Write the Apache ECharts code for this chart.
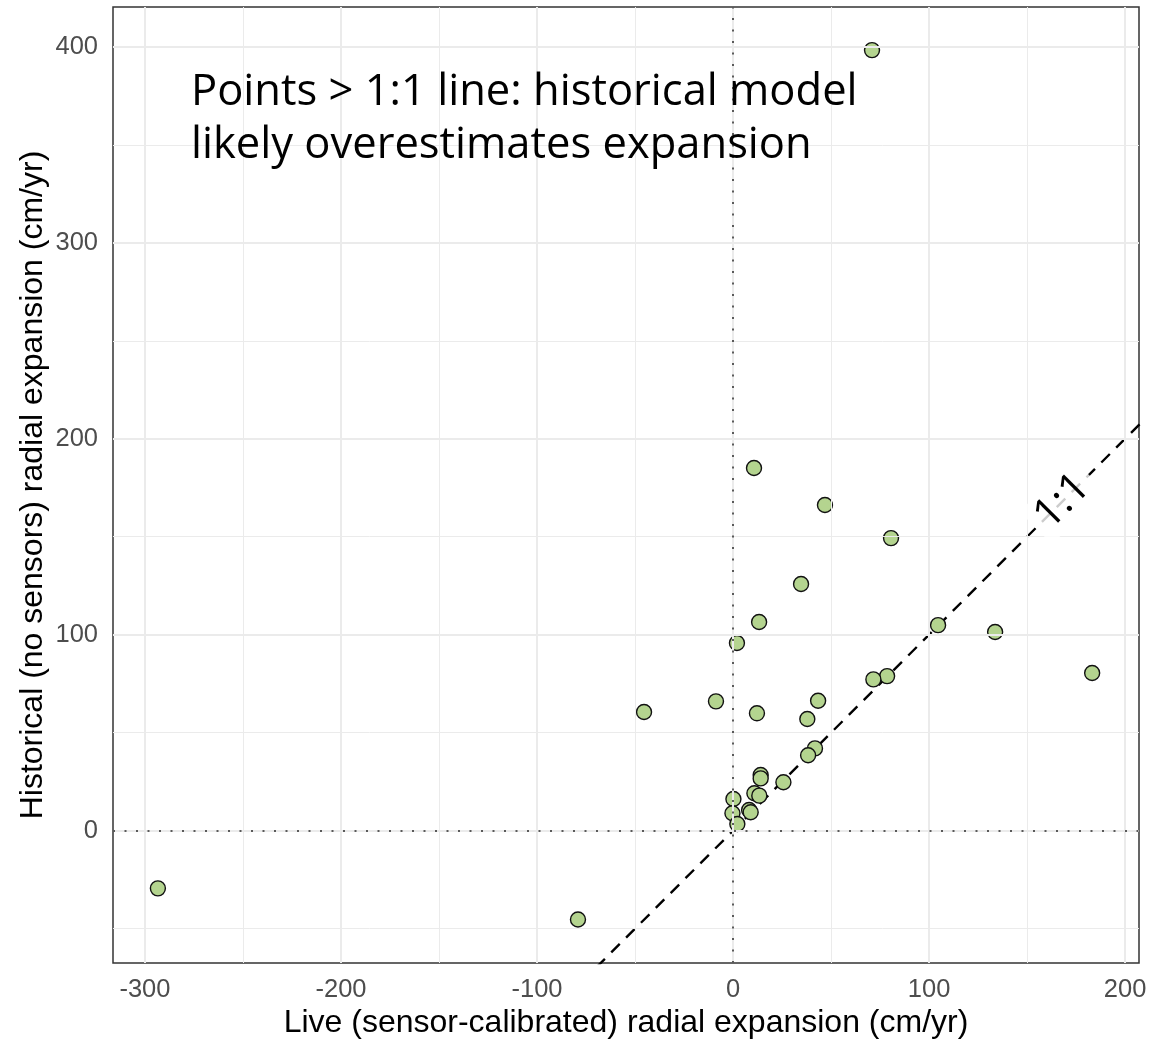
<!DOCTYPE html>
<html>
<head>
<meta charset="utf-8">
<script src="https://cdn.jsdelivr.net/npm/echarts@6/dist/echarts.min.js"></script>
<style>
  html, body { margin: 0; padding: 0; background: #fff; }
  #chart { width: 1150px; height: 1042px; }
</style>
</head>
<body>
<div id="chart"></div>
<script>
// Live (sensor-calibrated) vs historical (no sensors) radial expansion, cm/yr
const liveExpansion = [
  70.9, 10.7, 46.9, 80.6, 34.7, 13.3, 104.6, 133.7, 2.0, 183.2,
  78.6, 71.6, -8.7, 43.4, -45.4, 12.2, 37.9, 41.8, 38.3,
  14.1, 14.1, 25.7, 10.9, 13.4, 0.2, 8.2, 9.0, -0.3, 2.2,
  -293.4, -79.1
];
const historicalExpansion = [
  398.3, 185.1, 166.2, 149.3, 125.9, 106.5, 104.9, 101.4, 95.8, 80.5,
  78.9, 77.2, 66.0, 66.3, 60.6, 59.9, 57.0, 42.0, 38.5,
  28.4, 26.7, 24.7, 19.1, 17.9, 16.2, 10.6, 9.4, 8.9, 3.4,
  -29.4, -45.3
];

// Axis extents and tick positions
const xRange = [-316.3, 207.1];
const yRange = [-67.5, 420.3];
const xTicks = [-300, -200, -100, 0, 100, 200];
const yTicks = [0, 100, 200, 300, 400];
const xMinorGrid = [-250, -150, -50, 50, 150];
const yMinorGrid = [-50, 50, 150, 250, 350];

// 1:1 reference line endpoints (clipped to the panel)
const identityLine = [-100, 250];
const identityLabelAt = 168;

const annotationText = 'Points > 1:1 line: historical model\nlikely overestimates expansion';
const annotationAt = [-276.5, 363];

const points = liveExpansion.map((x, i) => [x, historicalExpansion[i]]);

const gridLines = []
  .concat(xMinorGrid.map(v => ({ xAxis: v, lineStyle: { color: '#ebebeb', width: 1, type: 'solid' } })))
  .concat(yMinorGrid.map(v => ({ yAxis: v, lineStyle: { color: '#ebebeb', width: 1, type: 'solid' } })))
  .concat(xTicks.map(v => ({ xAxis: v, lineStyle: { color: '#ebebeb', width: 2, type: 'solid' } })))
  .concat(yTicks.map(v => ({ yAxis: v, lineStyle: { color: '#ebebeb', width: 2, type: 'solid' } })));

const chart = echarts.init(document.getElementById('chart'), null, { renderer: 'canvas' });

const sansFont = 'Liberation Sans, Arial, sans-serif';
const axisCommon = {
  type: 'value',
  axisLine: { show: false },
  splitLine: { show: false },
  axisTick: { show: true, length: 7, lineStyle: { color: '#333', width: 2 } },
  axisLabel: { color: '#4d4d4d', fontSize: 25.5, fontFamily: sansFont },
  nameLocation: 'middle',
  nameMoveOverlap: false,
  nameTextStyle: { color: '#000', fontSize: 32, fontFamily: sansFont }
};

chart.setOption({
  animation: false,
  backgroundColor: '#fff',
  grid: {
    left: 113, right: 11, top: 7, bottom: 79,
    containLabel: false,
    outerBoundsMode: 'none',
    show: true, borderColor: '#333', borderWidth: 1.5, backgroundColor: 'transparent'
  },
  xAxis: Object.assign({}, axisCommon, {
    min: xRange[0], max: xRange[1],
    name: 'Live (sensor-calibrated) radial expansion (cm/yr)',
    nameGap: 44,
    axisTick: Object.assign({}, axisCommon.axisTick, { customValues: xTicks }),
    axisLabel: Object.assign({}, axisCommon.axisLabel, { customValues: xTicks, margin: 14 })
  }),
  yAxis: Object.assign({}, axisCommon, {
    min: yRange[0], max: yRange[1],
    name: 'Historical (no sensors) radial expansion (cm/yr)',
    nameGap: 64,
    axisTick: Object.assign({}, axisCommon.axisTick, { customValues: yTicks }),
    axisLabel: Object.assign({}, axisCommon.axisLabel, { customValues: yTicks, margin: 15 })
  }),
  series: [
    {
      // panel grid + zero reference lines
      type: 'line',
      data: [],
      silent: true,
      markLine: {
        silent: true,
        symbol: 'none',
        label: { show: false },
        animation: false,
        data: gridLines.concat([
          { xAxis: 0, lineStyle: { color: '#5a5a5a', width: 2, type: [2, 9.5] } },
          { yAxis: 0, lineStyle: { color: '#5a5a5a', width: 2, type: [2, 9.5] } }
        ])
      }
    },
    {
      // 1:1 line
      type: 'line',
      data: identityLine.map(v => [v, v]),
      showSymbol: false,
      symbol: 'none',
      clip: true,
      silent: true,
      lineStyle: { color: '#000', width: 2.4, type: [12, 9] },
      z: 3
    },
    {
      type: 'scatter',
      data: points,
      symbol: 'circle',
      symbolSize: 15,
      itemStyle: { color: '#b4d48f', borderColor: '#111', borderWidth: 1.4, opacity: 1 },
      z: 4
    },
    {
      // "1:1" tag on the reference line
      type: 'scatter',
      data: [[identityLabelAt, identityLabelAt]],
      symbolSize: 0,
      silent: true,
      z: 5,
      itemStyle: { opacity: 1 },
      label: {
        show: true,
        position: 'inside',
        formatter: '1:1',
        rotate: 45,
        color: '#000',
        fontSize: 42,
        fontFamily: 'Open Sans, sans-serif',
        backgroundColor: 'rgba(255,255,255,0.8)',
        padding: [2, 8],
        borderRadius: 4
      }
    },
    {
      // interpretation note
      type: 'scatter',
      data: [annotationAt],
      symbolSize: 0,
      silent: true,
      z: 5,
      itemStyle: { opacity: 1 },
      label: {
        show: true,
        position: 'right',
        distance: 0,
        formatter: annotationText,
        color: '#000',
        fontSize: 43.5,
        lineHeight: 53,
        align: 'left',
        verticalAlign: 'middle',
        fontFamily: 'Open Sans, sans-serif'
      }
    }
  ]
});
</script>
</body>
</html>
